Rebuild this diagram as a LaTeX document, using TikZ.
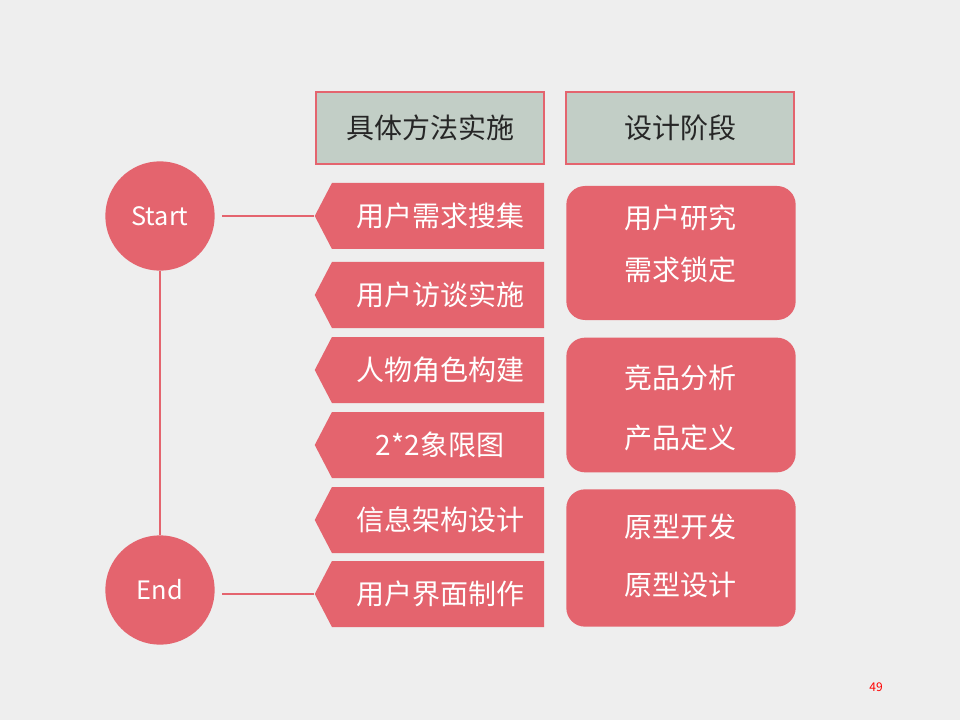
\documentclass[tikz,border=0pt]{standalone}
\usepackage{fontspec}
\setmainfont{Noto Sans CJK SC}
\usetikzlibrary{shapes.symbols,positioning}
\definecolor{rose}{HTML}{E4646E}
\definecolor{sage}{HTML}{C2CEC6}
\definecolor{paper}{HTML}{EEEEEE}
\begin{document}
\begin{tikzpicture}[x=0.75pt, y=-0.75pt]

    \tikzset{
        head/.style     = {draw=rose, thick, fill=sage, minimum width=171pt, minimum height=54pt, font=\fontsize{21}{24}\selectfont, text=black!85},
        method/.style   = {signal, signal to=west, signal pointer angle=125, fill=rose, minimum width=172pt, minimum height=49.5pt, inner sep=0pt, font=\fontsize{21}{24}\selectfont, text=white},
        phase/.style    = {rounded corners=14pt, fill=rose, minimum width=172pt},
        phasetxt/.style = {font=\fontsize{21}{24}\selectfont, text=white},
        ends/.style     = {circle, fill=rose, minimum size=82pt, font=\fontsize{19}{22}\selectfont, text=white},
        link/.style     = {rose, line width=2pt}
    }

    \fill[paper] (0,0) rectangle (960,720);
    \useasboundingbox (0,0) rectangle (960,720);

    \node (h1) [head] at (430,128) {具体方法实施};
    \node (h2) [head] at (680,128) {设计阶段};

    \node (m1) [method] at (438,216) {\hspace*{3pt}用户需求搜集};
    \node (m2) [method] at (438,295) {\hspace*{3pt}用户访谈实施};
    \node (m3) [method] at (438,370) {\hspace*{3pt}人物角色构建};
    \node (m4) [method] at (438,445) {\hspace*{3pt}2*2象限图};
    \node (m5) [method] at (438,520) {\hspace*{3pt}信息架构设计};
    \node (m6) [method] at (438,594) {\hspace*{3pt}用户界面制作};

    \node (p1) [phase, minimum height=100.5pt] at (681,253) {};
    \node (p2) [phase, minimum height=101pt]   at (681,405) {};
    \node (p3) [phase, minimum height=103pt]   at (681,558) {};

    \node (p1a) [phasetxt] at (680,218) {用户研究};
    \node (p1b) [phasetxt] at (680,270) {需求锁定};
    \node (p2a) [phasetxt] at (680,378) {竞品分析};
    \node (p2b) [phasetxt] at (680,438) {产品定义};
    \node (p3a) [phasetxt] at (680,527) {原型开发};
    \node (p3b) [phasetxt] at (680,585) {原型设计};

    \node (start) [ends] at (160,216) {Start};
    \node (end)   [ends] at (160,590) {End};

    \coordinate (c1) at (222,216);
    \coordinate (c2) at (222,594);

    \draw[link] (start) -- (end);
    \draw[link] (c1) -- (m1.west);
    \draw[link] (c2) -- (m6.west);

    \node (page) [text=red, font=\fontsize{9}{10}\selectfont] at (876,687) {49};

\end{tikzpicture}
\end{document}
